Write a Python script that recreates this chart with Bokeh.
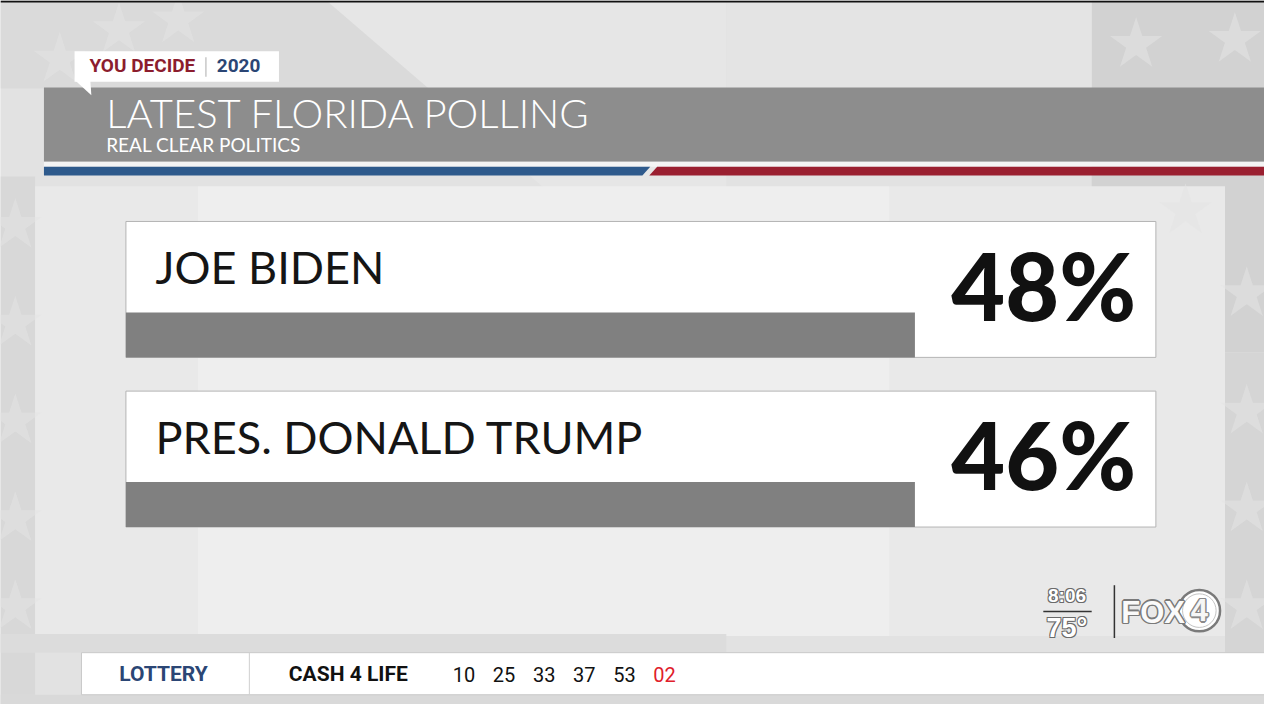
from bokeh.plotting import figure
from bokeh.models import Range1d
from bokeh.core.properties import value
from bokeh.embed import file_html
from bokeh.resources import INLINE

# ---------------- data ----------------
candidates = ["JOE BIDEN", "PRES. DONALD TRUMP"]
poll_pct = [48, 46]
title_text = "LATEST FLORIDA POLLING"
subtitle_text = "REAL CLEAR POLITICS"
badge_left = "YOU DECIDE"
badge_right = "2020"
lottery_label = "LOTTERY"
lottery_game = "CASH 4 LIFE"
lottery_numbers = ["10", "25", "33", "37", "53"]
lottery_bonus = "02"
clock_text = "8:06"
temp_text = "75°"

# ---------------- styles ----------------
BG = "#e3e3e3"
HEADER_GRAY = "#8d8d8d"
BAR_GRAY = "#808080"
BLUE = "#2e5a8c"
RED = "#9a1f30"
BADGE_RED = "#8c1d2e"
NAVY = "#2b4675"

W, H = 1264, 704
p = figure(width=W, height=H, x_range=Range1d(0, 1280), y_range=Range1d(720, 0),
           output_backend="svg", toolbar_location=None, min_border=0,
           x_axis_location=None, y_axis_location=None)
p.xgrid.visible = False
p.ygrid.visible = False
p.outline_line_color = None
p.background_fill_color = BG
p.border_fill_color = BG


def txt(x, baseline, text, font, size, color, style="normal", align="left", k=0.40):
    """place text so that its alphabetic baseline lands on `baseline`"""
    ys = [b - k * size for b in baseline]
    p.text(x=x, y=ys, text=text, text_font=value(font), text_font_style=style,
           text_font_size=f"{size}px", text_color=color, text_align=align,
           text_baseline="middle")


# ---------------- background ----------------
p.quad(left=[0], right=[1280], top=[0], bottom=[720], color="#e2e2e2", line_color=None)
p.quad(left=[1105], right=[1280], top=[0], bottom=[360], color="#d2d2d2", line_color=None)
p.quad(left=[1240], right=[1280], top=[360], bottom=[720], color="#d5d5d5", line_color=None)
p.quad(left=[0], right=[35], top=[180], bottom=[720], color="#d8d8d8", line_color=None)
p.quad(left=[0], right=[735], top=[0], bottom=[90], color="#dadada", line_color=None)
p.quad(left=[735], right=[1105], top=[0], bottom=[90], color="#e4e4e4", line_color=None)
p.patch(x=[330, 735, 735, 560], y=[0, 0, 200, 200], color="#e6e6e6", line_color=None)
p.quad(left=[35], right=[1240], top=[190], bottom=[650], color="#e9e9e9", line_color=None)
p.quad(left=[200], right=[900], top=[190], bottom=[650], color="#efefef", line_color=None, alpha=0.8)
p.quad(left=[0], right=[735], top=[648], bottom=[667], color="#dcdcdc", line_color=None)
p.quad(left=[0], right=[1280], top=[710], bottom=[720], color="#d9d9d9", line_color=None)
# faint stars
sx = [15, 15, 15, 15, 15, 120, 60, 180, 1150, 1250, 1200, 1262, 1262, 1262, 1262]
sy = [230, 330, 430, 530, 620, 30, 60, 20, 45, 40, 215, 420, 520, 620, 300]
p.scatter(x=sx, y=sy, marker="star", size=55, fill_color="#e4e4e4", line_color=None, alpha=0.55)
p.quad(left=[0], right=[1280], top=[0], bottom=[2], color="#111111", line_color=None)

# ---------------- header ----------------
p.quad(left=[44], right=[1280], top=[89], bottom=[165], color=HEADER_GRAY, line_color=None)
p.quad(left=[44], right=[1280], top=[165], bottom=[170], color="#f4f4f4", line_color=None)
p.patch(x=[44, 658, 650, 44], y=[170, 170, 179, 179], color=BLUE, line_color=None)
p.patch(x=[665, 1280, 1280, 657], y=[170, 170, 179, 179], color=RED, line_color=None)
txt([107], [131], [title_text], "Lato Light", 40, "white")
txt([107], [155], [subtitle_text], "Lato", 19, "white")

# badge
p.quad(left=[75], right=[282], top=[52], bottom=[83], color="white", line_color=None)
p.patch(x=[76, 91, 92], y=[82, 82, 97], color="white", line_color=None)
p.segment(x0=[208], y0=[58], x1=[208], y1=[78], line_color="#c8c8c8", line_width=1.5)
txt([90], [74], [badge_left], "Roboto", 19, BADGE_RED, style="bold")
txt([219], [74], [badge_right], "Roboto", 19, NAVY, style="bold")

# ---------------- cards ----------------
CARD_L, CARD_R, VAL_L = 127, 1170, 926
CARD_TOP0, CARD_STEP, CARD_H, BAR_H = 226, 173.5, 139, 46
tops = [CARD_TOP0 + i * CARD_STEP for i in range(len(candidates))]
bottoms = [t + CARD_H for t in tops]
p.quad(left=[CARD_L] * len(tops), right=[CARD_R] * len(tops), top=tops, bottom=bottoms,
       fill_color="white", line_color="#b4b4b4", line_width=1)
p.quad(left=[CARD_L] * len(tops), right=[VAL_L] * len(tops), top=[b - BAR_H for b in bottoms],
       bottom=bottoms, fill_color=BAR_GRAY, line_color=None)
txt([157] * len(tops), [t + 65 for t in tops], candidates, "Lato", 45, "#151515")
txt([1150] * len(tops), [t + 102 for t in tops], [f"{v}%" for v in poll_pct],
    "Lato Black", 93, "#111111", style="normal", align="right")

# ---------------- clock / logo ----------------
LS = "Liberation Sans"
for dx, dy in [(1, 1), (-1, 1), (1, -1), (-1, -1)]:
    txt([1080 + dx], [615 + dy], [clock_text], LS, 19, "#6a6a6a", style="bold", align="center", k=0.36)
    txt([1080 + dx], [651 + dy], [temp_text], LS, 27, "#6a6a6a", style="bold", align="center", k=0.36)
txt([1080], [615], [clock_text], LS, 19, "white", style="bold", align="center", k=0.36)
txt([1080], [651], [temp_text], LS, 27, "white", style="bold", align="center", k=0.36)
p.segment(x0=[1056], y0=[625], x1=[1105], y1=[625], line_color="#333333", line_width=1.5)
p.segment(x0=[1128], y0=[598], x1=[1128], y1=[652], line_color="#333333", line_width=1.5)
p.circle(x=[1214], y=[624], radius=21, fill_color="white", line_color="#7a7a7a", line_width=2.5)
p.circle(x=[1214], y=[624], radius=17, fill_color=None, line_color="#c4c4c4", line_width=1)
for dx, dy in [(1.5, 0), (-1.5, 0), (0, 1.5), (0, -1.5), (1, 1), (-1, -1), (1, -1), (-1, 1)]:
    txt([1135 + dx], [637 + dy], ["FOX"], LS, 31, "#7a7a7a", style="bold", k=0.36)
    txt([1214 + dx], [635 + dy], ["4"], LS, 31, "#8a8a8a", style="bold", align="center", k=0.36)
txt([1135], [637], ["FOX"], LS, 31, "#fafafa", style="bold", k=0.36)
txt([1214], [635], ["4"], LS, 31, "#f6f6f6", style="bold", align="center", k=0.36)

# ---------------- ticker ----------------
p.quad(left=[82], right=[1280], top=[667], bottom=[710], fill_color="white",
       line_color="#c9c9c9", line_width=1)
p.segment(x0=[252], y0=[667], x1=[252], y1=[710], line_color="#cfcfcf", line_width=1)
txt([165], [697], [lottery_label], "Roboto", 21, NAVY, style="bold", align="center", k=0.38)
txt([292], [697], [lottery_game], "Roboto", 21, "#111111", style="bold", k=0.38)
num_x = [458 + 40.6 * i for i in range(len(lottery_numbers) + 1)]
txt(num_x[:-1], [697] * len(lottery_numbers), lottery_numbers, "Roboto", 20, "#111111", k=0.38)
txt([num_x[-1]], [697], [lottery_bonus], "Roboto", 20, "#e0202a", k=0.38)

open("out.html", "w").write(file_html(p, INLINE))
